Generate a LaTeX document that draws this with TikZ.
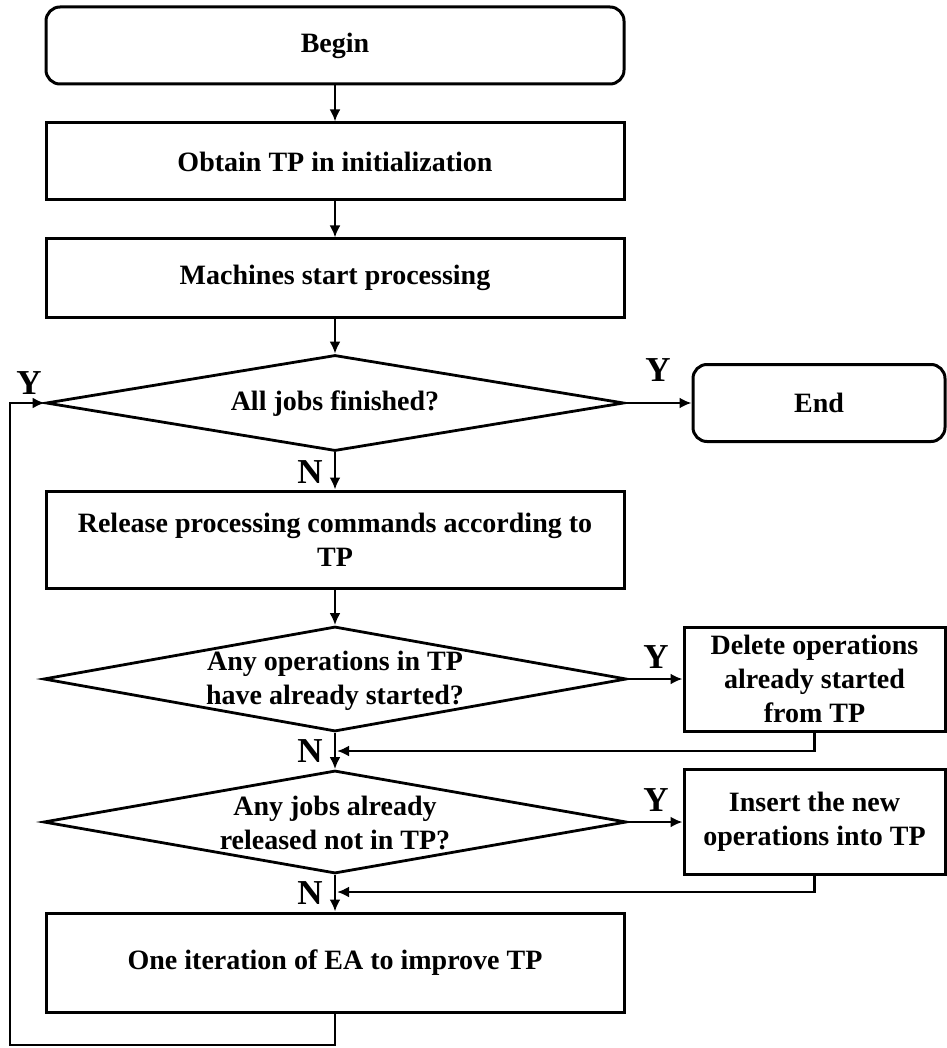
\documentclass[tikz,border=0pt]{standalone}
\usepackage{fontspec}
\setmainfont{Liberation Serif}
\usetikzlibrary{shapes.geometric,arrows.meta}
\begin{document}
\begin{tikzpicture}[x=1pt,y=-1pt,
  every node/.style={font=\fontsize{28}{34}\selectfont\bfseries},
  box/.style={draw, line width=3pt, inner sep=0pt, align=center},
  rbox/.style={box, rounded corners=14pt},
  dia/.style={draw, shape=diamond, line width=2.8pt, inner sep=0pt},
  lbl/.style={font=\fontsize{35}{40}\selectfont\bfseries, inner sep=0pt},
  arr/.style={line width=2.4pt, -{Latex[length=12pt,width=11pt]}}]
\useasboundingbox (0,0) rectangle (946,1048);

\node[rbox, minimum width=578pt, minimum height=77pt] (begin) at (335,45.5) {Begin};
\node[box, minimum width=578pt, minimum height=77pt] (obtain) at (335,161.5) {Obtain TP in initialization};
\node[box, minimum width=578pt, minimum height=78pt] (mach) at (335,278) {Machines start processing};
\node[dia, minimum width=578pt, minimum height=96pt] (d1) at (335,403) {};
\node (d1t) at (335,404) {All jobs finished?};
\node[rbox, minimum width=252pt, minimum height=77pt] (end) at (819,403) {End};
\node[box, minimum width=578pt, minimum height=97pt] (rel) at (335,539.5) {Release processing commands according to\\TP};
\node[dia, minimum width=583pt, minimum height=105pt] (d2) at (335,679) {};
\node[align=center] (d2t) at (335,681) {Any operations in TP\\have already started?};
\node[box, minimum width=261pt, minimum height=104pt] (del) at (814.5,679) {Delete operations\\already started\\from TP};
\node[dia, minimum width=583pt, minimum height=103pt] (d3) at (335,822) {};
\node[align=center] (d3t) at (335,823) {Any jobs already\\released not in TP?};
\node[box, minimum width=261pt, minimum height=105pt] (ins) at (814.5,822) {Insert the new\\operations into TP};
\node[box, minimum width=578pt, minimum height=99pt] (last) at (335,962.5) {One iteration of EA to improve TP};

\coordinate (j1) at (337,751);
\coordinate (j2) at (337,892);
\coordinate (lb) at (10,1045);

\draw[arr] (begin) -- (obtain);
\draw[arr] (obtain) -- (mach);
\draw[arr] (mach) -- (d1);
\draw[arr] (d1) -- (end);
\draw[arr] (d1) -- (rel);
\draw[arr] (rel) -- (d2);
\draw[arr] (d2) -- (del);
\draw[arr] (d2) -- (d3);
\draw[arr] (d3) -- (ins);
\draw[arr] (d3) -- (last);
\draw[arr] (del.south) |- (j1);
\draw[arr] (ins.south) |- (j2);
\draw[arr] (last.south) |- (lb) |- (d1.west);

\node[lbl] (y1) at (29,383) {Y};
\node[lbl] (n1) at (310,472) {N};
\node[lbl] (y2) at (658,370) {Y};
\node[lbl] (y3) at (656,657) {Y};
\node[lbl] (n2) at (310,751) {N};
\node[lbl] (y4) at (656,800) {Y};
\node[lbl] (n3) at (310,893) {N};
\end{tikzpicture}
\end{document}
